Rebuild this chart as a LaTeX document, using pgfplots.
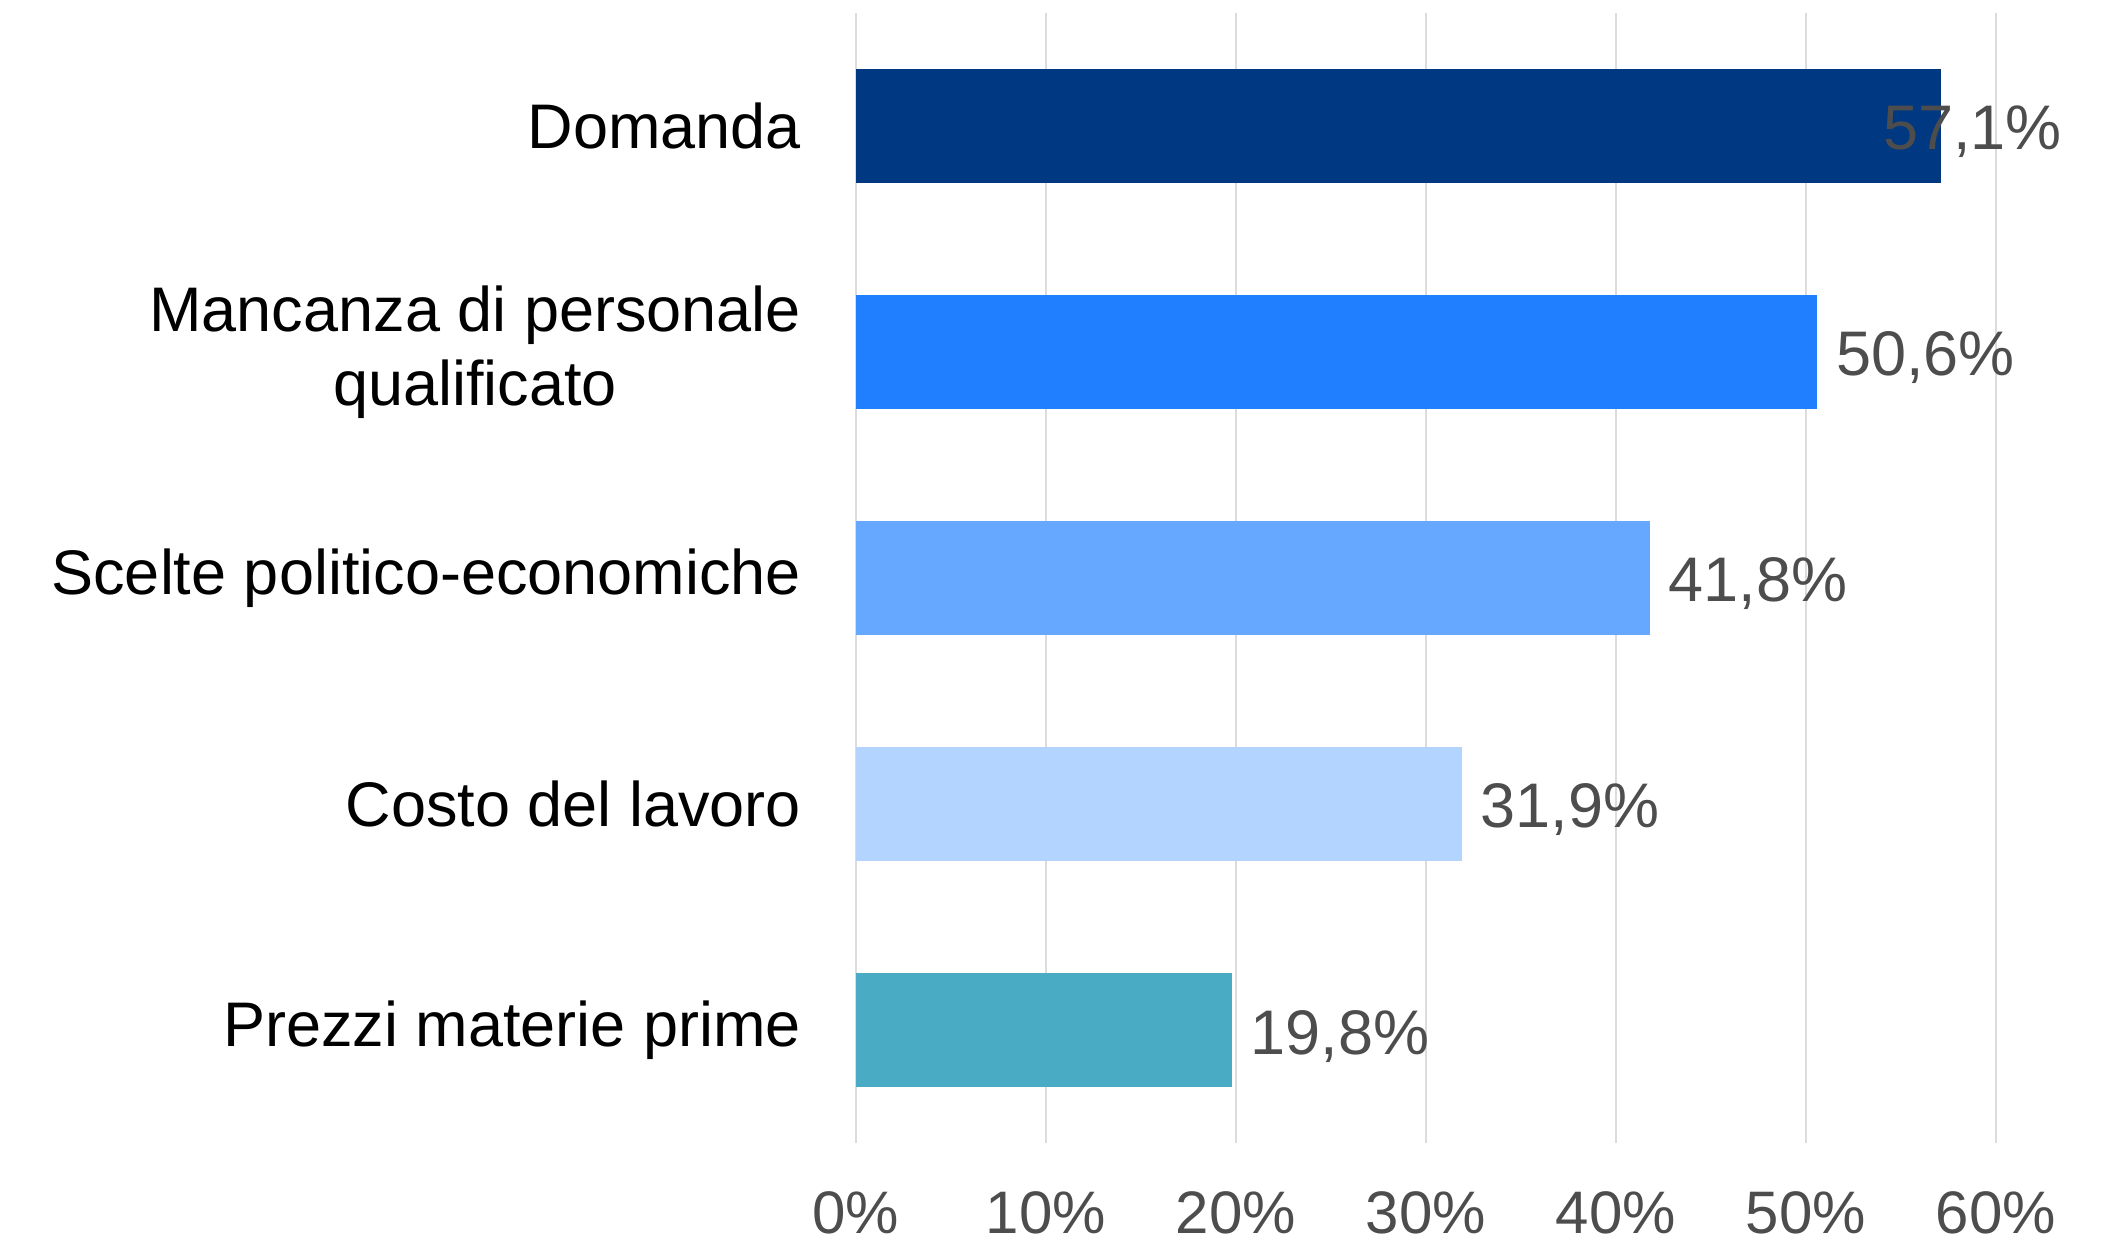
\documentclass[border=0pt]{standalone}
\usepackage{fontspec}
\setmainfont{Liberation Sans}
\usepackage{pgfplots}
\pgfplotsset{compat=1.18}

\definecolor{cDom}{HTML}{003882}
\definecolor{cMan}{HTML}{1F7FFF}
\definecolor{cSce}{HTML}{66A8FF}
\definecolor{cCos}{HTML}{B3D4FF}
\definecolor{cPre}{HTML}{4AABC4}
\definecolor{lblgray}{HTML}{4D4D4D}
\definecolor{gridgray}{HTML}{DCDCDC}

\begin{document}
\begin{tikzpicture}
\begin{axis}[
    scale only axis,
    width=228pt, height=226pt,
    xbar, bar width=0.504,
    xmin=0, xmax=60, ymin=-0.5, ymax=4.5,
    xtick={0,10,...,60},
    xticklabels={0\%,10\%,20\%,30\%,40\%,50\%,60\%},
    ytick={0,...,4},
    yticklabels={Prezzi materie prime, Costo del lavoro, Scelte politico-economiche, Mancanza di personale\\qualificato, Domanda},
    xmajorgrids,
    major grid style={color=gridgray, line width=0.4pt},
    axis line style={draw=none},
    tick style={draw=none},
    xticklabel style={font=\fontsize{12}{14}\selectfont, text=lblgray, anchor=base, inner sep=0pt, yshift=-18pt},
    yticklabel style={font=\fontsize{12.6}{14.8}\selectfont, text=black, align=center, anchor=east, inner sep=0pt, xshift=-6.5pt},
    nodes near coords={\pgfmathprintnumber[assume math mode=true, use comma, fixed, fixed zerofill, precision=1]{\pgfplotspointmeta}\%},
    every node near coord/.append style={font=\fontsize{12.6}{14.6}\selectfont, text=lblgray, anchor=base west, inner sep=0pt, xshift=3.6pt, yshift=-4.74pt},
    every axis plot/.append style={bar shift=0pt, draw=none},
]
% Domanda: label pulled back inside the plot
\addplot[fill=cDom, nodes near coords style={xshift=-15.26pt}] coordinates {(57.1,4)};
\addplot[fill=cMan] coordinates {(50.6,3)};
\addplot[fill=cSce] coordinates {(41.8,2)};
\addplot[fill=cCos] coordinates {(31.9,1)};
\addplot[fill=cPre] coordinates {(19.8,0)};
\end{axis}
\pgfresetboundingbox
\path ([shift={(-171.14pt,-19.54pt)}]current axis.south west) rectangle ([shift={(24.26pt,2.66pt)}]current axis.north east);
\end{tikzpicture}
\end{document}
